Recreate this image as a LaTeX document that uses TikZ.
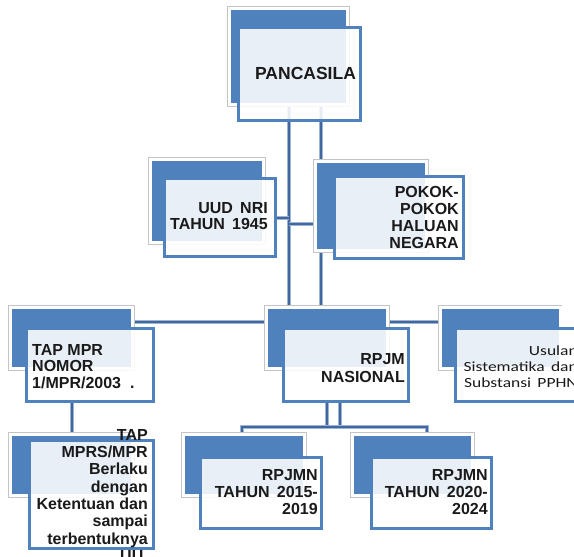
\documentclass[tikz,border=0pt]{standalone}
\usepackage{fontspec}
\setmainfont{Liberation Sans}
\newfontfamily\usulfont[FakeStretch=1.25]{Carlito}
\usepackage{tikz}
\usetikzlibrary{calc}
\definecolor{boxblue}{HTML}{4F81BD}
\definecolor{boxgray}{HTML}{C4C4C4}
\definecolor{lineblue}{HTML}{41689E}
\definecolor{linelight}{HTML}{9DB4D6}
\definecolor{textblack}{HTML}{1A1A1A}
\pgfdeclarelayer{background}
\pgfsetlayers{background,main}
\tikzset{
  back/.style={fill=boxblue, draw=white, line width=3pt, preaction={draw=boxgray, line width=4.6pt}, inner sep=0pt},
  front/.style={draw=boxblue, line width=3pt, fill=white, fill opacity=0.88, inner sep=0pt},
  sz/.style 2 args={minimum width=#1pt, minimum height=#2pt},
  link/.style={draw=lineblue, line width=2pt, preaction={draw=linelight, line width=4pt}},
  txt/.style={font=\bfseries\fontsize{16}{17}\selectfont, text=textblack, inner sep=0pt, align=right, anchor=north east},
}
\def\wsp{\hspace{0.45em}}

\begin{document}
\begin{tikzpicture}[x=1pt, y=-1pt]
  \useasboundingbox (0,0) rectangle (574,557);

  % top
  \node[back, sz={118}{96}] (pancB) at (288.5,56.5) {};
  \node[front, sz={122}{93}] (pancF) at (299.5,74) {};
  \node[txt, anchor=center, font=\bfseries\fontsize{17.5}{20}\selectfont] (pancT) at (305.5,73) {PANCASILA};

  % second row
  \node[back, sz={113}{83}] (uudB) at (207,201) {};
  \node[front, sz={111}{78}] (uudF) at (220,217.5) {};
  \node[txt, font=\bfseries\fontsize{16}{16.5}\selectfont] (uudT) at (268,202) {UUD\wsp NRI\\TAHUN\wsp 1945};

  \node[back, sz={111}{89}] (pokokB) at (371,206) {};
  \node[front, sz={129}{82}] (pokokF) at (399,217.5) {};
  \node[txt] (pokokT) at (459,186) {POKOK-\\POKOK\\HALUAN\\NEGARA};

  % third row
  \node[back, sz={122}{61}] (tapB) at (71.5,338) {};
  \node[front, sz={127}{73}] (tapF) at (90,365) {};
  \node[txt, anchor=north west, align=left, font=\bfseries\fontsize{16}{16.5}\selectfont] (tapT) at (32,344) {TAP MPR\\NOMOR\\1/MPR/2003\ \ .};

  \node[back, sz={121}{61}] (rpjmB) at (327,338) {};
  \node[front, sz={125}{73}] (rpjmF) at (346,365) {};
  \node[txt, font=\bfseries\fontsize{16}{18}\selectfont] (rpjmT) at (405,353) {RPJM\\NASIONAL};

  \node[back, sz={120}{61}] (usulB) at (500,338) {};
  \node[front, sz={137}{73}] (usulF) at (524,365) {};
  \node[txt, font=\usulfont\fontsize{14}{16}\selectfont] (usulT) at (578,346) {Usulan\\Sistematika\wsp dan\\Substansi\wsp PPHN};

  % bottom row
  \node[back, sz={122}{61}] (mprsB) at (71.5,465) {};
  \node[front, sz={124}{108}] (mprsF) at (91.5,494.5) {};
  \node[txt, font=\bfseries\fontsize{16}{17.3}\selectfont] (mprsT) at (148,429) {TAP\\MPRS/MPR\\Berlaku\\dengan\\Ketentuan dan\\sampai\\terbentuknya\\UU.};

  \node[back, sz={121}{61}] (r15B) at (244,465) {};
  \node[front, sz={121}{71}] (r15F) at (261,493) {};
  \node[txt] (r15T) at (318,469) {RPJMN\\TAHUN\wsp 2015-\\2019};

  \node[back, sz={120}{61}] (r20B) at (412.5,465) {};
  \node[front, sz={120}{71}] (r20F) at (431.5,493) {};
  \node[txt] (r20T) at (488,469) {RPJMN\\TAHUN\wsp 2020-\\2024};

  \begin{pgfonlayer}{background}
    \coordinate (trunkR) at (321,105);
    \coordinate (pokokIn) at (313,224);
    \draw[link] (pancB.south) -- (pancB.south |- rpjmB.north);
    \draw[link] (trunkR) -- (trunkR |- rpjmB.north);
    \draw[link] (uudF.east) -- (uudF.east -| pancB.south);
    \draw[link] (pokokIn -| pancB.south) -- (pokokIn);
    % row of regulations
    \coordinate (rowL) at ($(tapB.north east)!0.25!(tapB.south east)$);
    \coordinate (rowR) at ($(rpjmB.north east)!0.25!(rpjmB.south east)$);
    \draw[link] (rowL) -- (rowL -| rpjmB.west);
    \draw[link] (rowR) -- (rowR -| usulB.west);
    \draw[link] (tapB.south |- tapF.south) -- (tapB.south |- mprsB.north);
    % RPJMN branches
    \coordinate (barL) at (242,427);
    \coordinate (barR) at (427,427);
    \coordinate (rpjmDn) at (340,401);
    \draw[link] (rpjmB.south |- rpjmF.south) -- (rpjmB.south |- barL);
    \draw[link] (rpjmDn) -- (rpjmDn |- barL);
    \draw[link] (barL |- r15B.north) -- (barL) -- (barR) -- (barR |- r20B.north);
  \end{pgfonlayer}
\end{tikzpicture}
\end{document}
